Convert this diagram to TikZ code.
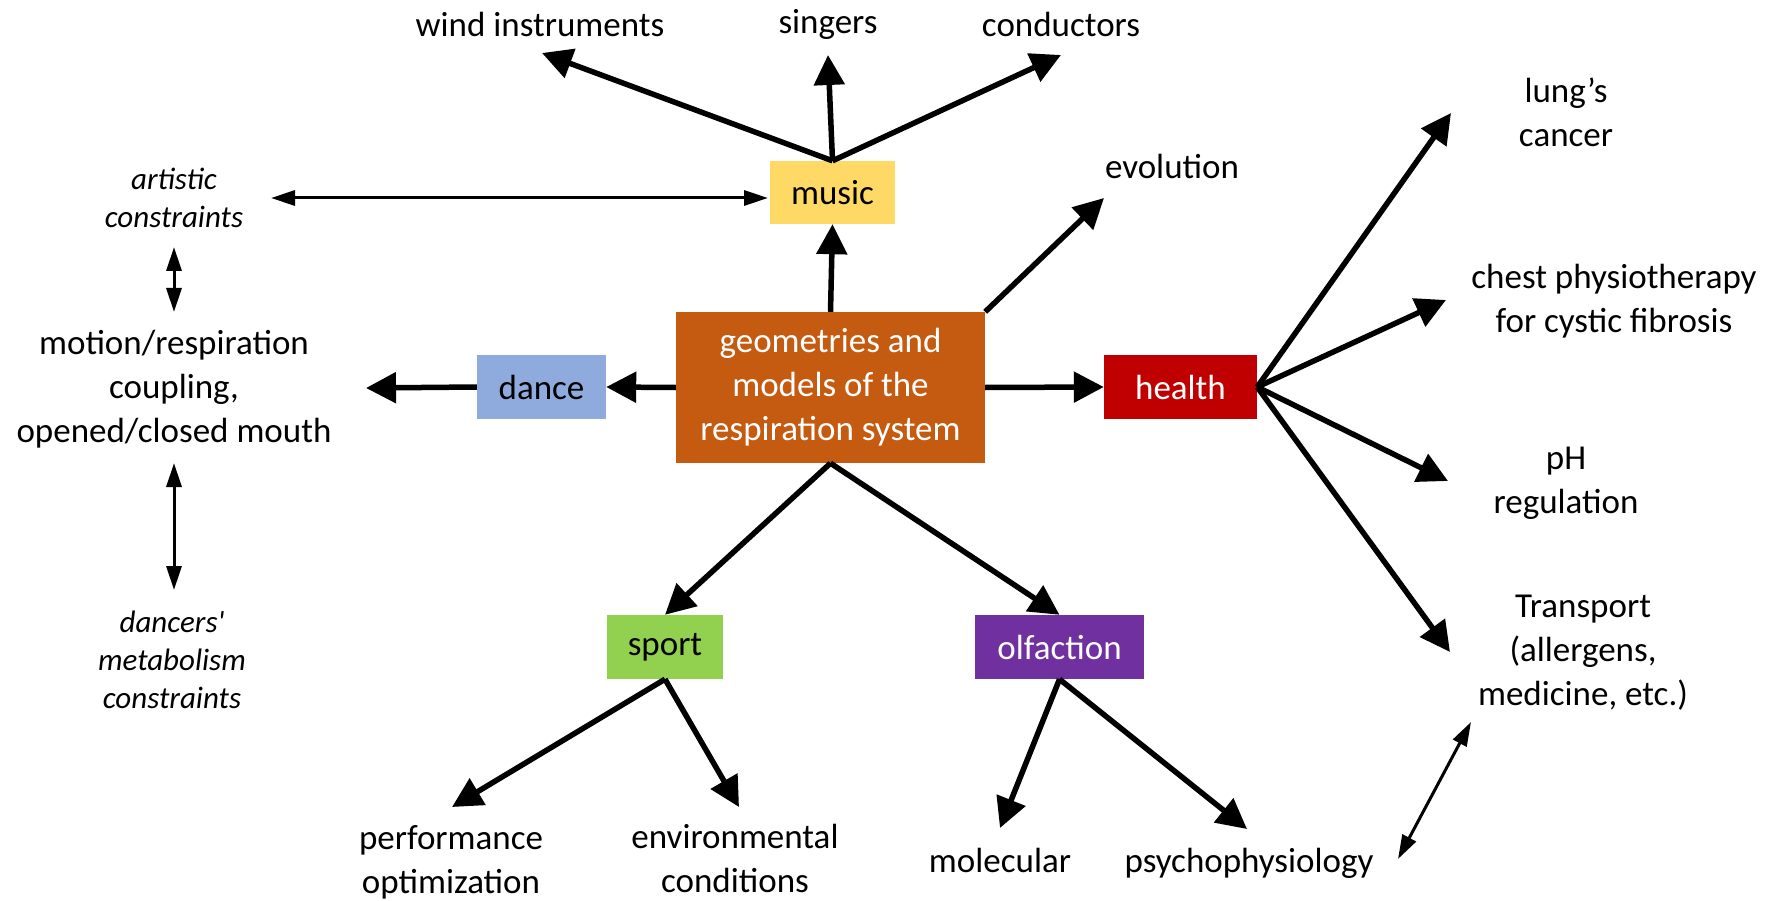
\documentclass[tikz,border=0pt]{standalone}
\usepackage{fontspec}
\setmainfont{Carlito}
\usetikzlibrary{arrows.meta}
\definecolor{cmusic}{HTML}{FFD966}
\definecolor{cdance}{HTML}{8FAADC}
\definecolor{ccenter}{HTML}{C55A11}
\definecolor{chealth}{HTML}{C00000}
\definecolor{csport}{HTML}{92D050}
\definecolor{colf}{HTML}{7030A0}
\tikzset{
 lbl/.style={font=\fontsize{35}{44}\selectfont, align=center, inner sep=0pt},
 ital/.style={font=\fontsize{31}{38}\selectfont\itshape, align=center, inner sep=0pt},
 box/.style={font=\fontsize{35}{44}\selectfont, align=center, inner sep=0pt, minimum height=64pt},
 big/.style={line width=5.5pt, -{Triangle[length=30pt,width=30pt]}},
 thin/.style={line width=3pt, {Triangle[length=24pt,width=15pt]}-{Triangle[length=24pt,width=15pt]}},
}
\begin{document}
\begin{tikzpicture}[x=1pt,y=-1pt]
\useasboundingbox (0,0) rectangle (1783,901);
% boxes
\node[box, fill=ccenter, text=white, minimum width=309pt, minimum height=151pt] (center) at (830.5,387.5) {geometries and\\models of the\\respiration system};
\node[box, fill=cmusic, minimum width=125pt, minimum height=63pt] (music) at (832.5,192.5) {music};
\node[box, fill=cdance, minimum width=129pt] (dance) at (541.5,387) {dance};
\node[box, fill=chealth, text=white, minimum width=153pt] (health) at (1180.5,387) {health};
\node[box, fill=csport, minimum width=116pt] (sport) at (665,647) {sport};
\node[box, fill=colf, text=white, minimum width=169pt] (olf) at (1059.5,647) {olfaction};
% labels
\node[lbl] (wind) at (540,24) {wind instruments};
\node[lbl] (singers) at (828,24) {singers};
\node[lbl] (cond) at (1061,24) {conductors};
\node[ital] (art) at (174,198) {artistic\\constraints};
\node[lbl] (motion) at (174,389) {motion/respiration\\coupling,\\opened/closed mouth};
\node[ital] (danc) at (172,660) {dancers\textquotesingle\\metabolism\\constraints};
\node[lbl] (evo) at (1172,166) {evolution};
\node[lbl] (lung) at (1566,112) {lung’s\\cancer};
\node[lbl] (chest) at (1614,301) {chest physiotherapy\\for cystic fibrosis};
\node[lbl] (ph) at (1566,483) {pH\\regulation};
\node[lbl] (trans) at (1583,653) {Transport\\(allergens,\\medicine, etc.)};
\node[lbl] (perf) at (451,862) {performance\\optimization};
\node[lbl] (env) at (735,858) {environmental\\conditions};
\node[lbl] (mol) at (1000,860) {molecular};
\node[lbl] (psy) at (1249,863) {psychophysiology};
% tip coordinates
\coordinate (tWind) at (542,53);
\coordinate (tSing) at (828,55);
\coordinate (tCond) at (1061,55);
\coordinate (tMotion) at (366,388);
\coordinate (tEvo) at (1104,198);
\coordinate (tLung) at (1451,113);
\coordinate (tChest) at (1446,300);
\coordinate (tPh) at (1448,481);
\coordinate (tTrans) at (1450,652);
\coordinate (tPerf) at (452,807);
\coordinate (tEnv) at (739,807);
\coordinate (tMol) at (1000,828);
\coordinate (tPsy) at (1247,829);
\coordinate (aL) at (271,198);
\coordinate (aR) at (768,198);
\coordinate (v1a) at (174,247);
\coordinate (v1b) at (174,312);
\coordinate (v2a) at (174,463);
\coordinate (v2b) at (174,590);
\coordinate (dA) at (1398,859);
\coordinate (dB) at (1471,722);
% thick arrows
\draw[big] (music.north) -- (tWind);
\draw[big] (music.north) -- (tSing);
\draw[big] (music.north) -- (tCond);
\draw[big] (center.north) -- (music.south);
\draw[big] (center.west) -- (dance.east);
\draw[big] (dance.west) -- (tMotion);
\draw[big] (center.east) -- (health.west);
\draw[big] (center.north east) -- (tEvo);
\draw[big] (health.east) -- (tLung);
\draw[big] (health.east) -- (tChest);
\draw[big] (health.east) -- (tPh);
\draw[big] (health.east) -- (tTrans);
\draw[big] (center.south) -- (sport.north);
\draw[big] (center.south) -- (olf.north);
\draw[big] (sport.south) -- (tPerf);
\draw[big] (sport.south) -- (tEnv);
\draw[big] (olf.south) -- (tMol);
\draw[big] (olf.south) -- (tPsy);
% thin double arrows
\draw[thin] (aL) -- (aR);
\draw[thin] (v1a) -- (v1b);
\draw[thin] (v2a) -- (v2b);
\draw[thin] (dA) -- (dB);
\end{tikzpicture}
\end{document}
